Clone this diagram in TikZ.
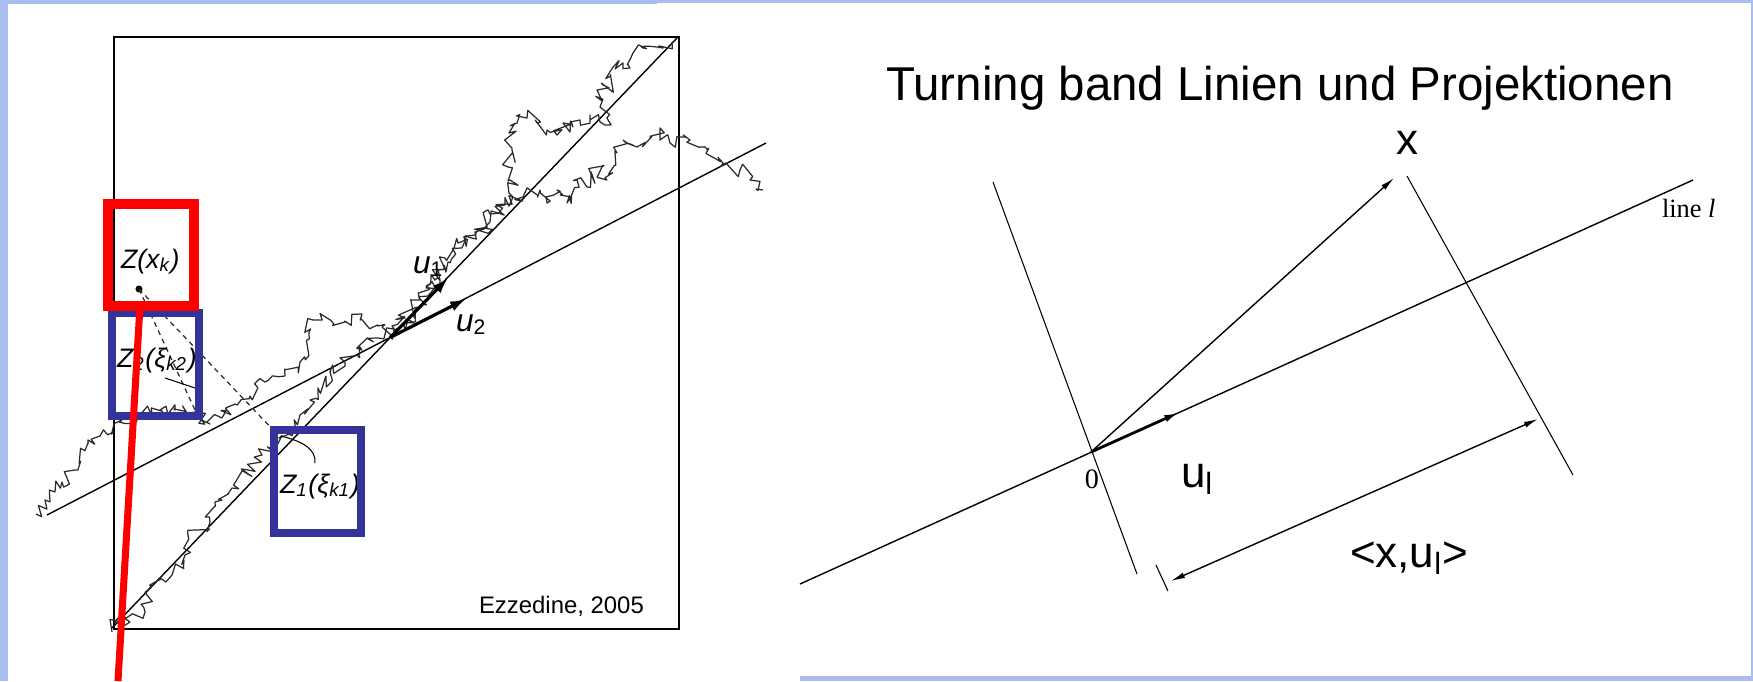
\documentclass[tikz,border=0pt]{standalone}
\usepackage{fontspec}
\setmainfont{Liberation Sans}
\newfontfamily\seriffont{Liberation Serif}
\usepackage{xcolor}
\usepackage{tikz}
\usetikzlibrary{arrows.meta,decorations.pathmorphing,calc}
\definecolor{slideblue}{HTML}{A9BEEE}
\definecolor{markred}{HTML}{FF0000}
\definecolor{markblue}{HTML}{333399}
\definecolor{walkgray}{HTML}{2A2A2A}

\begin{document}
\begin{tikzpicture}[
  x=0.01cm, y=-0.01cm,
  every node/.style={inner sep=0pt, outer sep=0pt},
  frame/.style={draw=black, line width=0.6pt},
  axis/.style={draw=black, line width=0.4pt},
  walk/.style={
    draw=walkgray,
    line width=0.35pt,
    line join=round,
    decorate,
    decoration={random steps, segment length=1.2pt, amplitude=2.1pt}
  },
  dashline/.style={draw=walkgray, line width=0.35pt, dash pattern=on 1.4pt off 1.2pt},
  tip/.style={-{Latex[length=4pt,width=1.7pt]}},
  unitvec/.style={line width=0.9pt, -{Latex[length=4.5pt,width=3pt]}},
  redmark/.style={draw=markred, line width=2.6pt},
  bluemark/.style={draw=markblue, line width=2pt},
  zlabel/.style={anchor=base west, font=\fontsize{7.6}{9}\selectfont\itshape},
  ulabel/.style={anchor=base west, font=\fontsize{9}{10}\selectfont\itshape},
  bigtext/.style={anchor=base west, font=\fontsize{12.5}{14}\selectfont},
  smallserif/.style={anchor=base west, font=\seriffont\fontsize{7.5}{9}\selectfont}
]
\useasboundingbox (0,0) rectangle (1753,681);
\fill[white] (0,0) rectangle (1753,681);

% slide border strips
\fill[slideblue] (0,0) rectangle (8,681);
\fill[slideblue] (0,0) rectangle (657,4);
\fill[slideblue] (657,0) rectangle (1753,3);
\fill[slideblue] (1751,0) rectangle (1753,681);
\fill[slideblue] (800,676) rectangle (1753,681);

%% left panel: two turning band lines with simulated processes
\draw[frame] (114,37) rectangle (679,629);
\coordinate (lineAs) at (112,628);
\coordinate (lineAe) at (677,38);
\coordinate (lineBs) at (47,515);
\coordinate (lineBe) at (766,143);
\coordinate (c) at (intersection of lineAs--lineAe and lineBs--lineBe);
\draw[axis] (lineAs) -- (lineAe);
\draw[axis] (lineBs) -- (lineBe);

\pgfmathsetseed{2005}
\draw[walk] plot coordinates {
  (112,632) (118,618) (130,622) (145,612) (148,590) (160,580) (172,575)
  (185,555) (195,530) (210,522) (222,500) (232,488) (248,470) (262,455)
  (279,438) (292,428) (300,415) (310,400) (318,388) (330,372) (345,362)
  (362,350) (378,338) (392,326) (405,318) (420,300) (435,280) (445,258)
  (458,243) (475,235) (490,222) (505,205) (513,197) (510,180) (508,167)
  (512,150) (509,133) (517,123) (527,118) (537,123) (547,130) (557,135)
  (563,123) (573,127) (580,120) (590,115) (600,122) (605,125) (600,107)
  (597,90) (603,85) (613,90) (613,67) (623,63) (630,68) (633,53)
  (643,48) (657,47) (663,48) (672,42)};
\draw[walk] plot coordinates {
  (36,514) (45,500) (55,492) (62,482) (75,470) (88,440) (100,436)
  (114,432) (122,420) (140,415) (160,410) (175,410) (195,412) (210,424)
  (222,418) (235,404) (250,396) (265,382) (285,376) (300,362) (313,320)
  (327,318) (345,322) (362,314) (378,326) (390,334) (405,330) (415,310)
  (428,296) (440,280) (448,262) (462,248) (475,232) (490,214) (505,204)
  (523,197) (540,190) (547,203) (557,190) (567,203) (577,180) (587,187)
  (597,167) (607,180) (617,153) (623,140) (637,147) (650,137) (660,128)
  (670,143) (690,140) (707,150) (723,163) (740,170) (750,180) (763,190)};

% projection of x_k onto both lines
\coordinate (xk) at (139,289);
\coordinate (xi2) at (195,410);
\coordinate (xi1) at (277,434);
\fill (xk) circle[radius=1pt];
\draw[dashline] (xk) -- (xi2);
\draw[dashline] (xk) -- (xi1);

% unit vectors
\coordinate (u1tip) at (448,278);
\coordinate (u2tip) at (466,299);
\draw[unitvec] (c) -- (u1tip);
\draw[unitvec] (c) -- (u2tip);
\node[ulabel] (u1) at (413,273) {u\textsubscript{\upshape 1}};
\node[ulabel] (u2) at (456,331) {u\textsubscript{\upshape 2}};

% labels with leaders
\node[zlabel] (zxk) at (121,268) {Z(x\textsubscript{k})};
\node[zlabel] (zxi2) at (117,367) {Z\textsubscript{2}(ξ\textsubscript{k2})};
\node[zlabel] (zxi1) at (280,493) {Z\textsubscript{1}(ξ\textsubscript{k1})};
\coordinate (lead2a) at (165,378);
\coordinate (lead2b) at (195,388);
\draw[axis, line width=0.3pt] (lead2a) -- (lead2b);
\coordinate (lead1a) at (281,436);
\coordinate (lead1b) at (315,463);
\draw[axis, line width=0.3pt] (lead1a) .. controls (305,442) and (316,450) .. (lead1b);

\node[anchor=base west, font=\fontsize{6.8}{8}\selectfont] (source) at (479,613) {Ezzedine, 2005};

% highlight boxes
\draw[bluemark] (112,313) rectangle (199,416);
\draw[bluemark] (274,430) rectangle (361,533);
\draw[redmark] (108,204) rectangle (194,306);
\coordinate (redtop) at (140,306);
\coordinate (redend) at (118,681);
\draw[draw=markred, line width=2pt] (redtop) -- (redend);

%% right panel: projection onto line l
\node[anchor=base, font=\fontsize{13.5}{16}\selectfont] (title) at (1280,100)
  {Turning band Linien und Projektionen};

\coordinate (O) at (1091,452);
\coordinate (lstart) at (800,584);
\coordinate (lend) at (1693,180);
\coordinate (perpL1) at (993,182);
\coordinate (perpL2) at (1137,574);
\coordinate (perpR1) at (1407,176);
\coordinate (perpR2) at (1573,475);
\coordinate (xtip) at (1394,178);
\coordinate (ultip) at (1180,412);
\coordinate (dimtop) at (1538,419);
\coordinate (dimbot) at (1171,581);
\coordinate (tick1) at (1156,565);
\coordinate (tick2) at (1168,591);

\draw[axis] (lstart) -- (lend);
\draw[axis, line width=0.3pt] (perpL1) -- (perpL2);
\draw[axis, line width=0.3pt] (perpR1) -- (perpR2);
\draw[axis, tip] (O) -- (xtip);
\draw[line width=0.8pt, -{Latex[length=4.5pt,width=2pt]}] (O) -- (ultip);
\draw[axis, {Latex[length=4pt,width=1.7pt]}-{Latex[length=4pt,width=1.7pt]}] (dimbot) -- (dimtop);
\draw[axis, line width=0.3pt] (tick1) -- (tick2);

\node[anchor=base, font=\fontsize{12.5}{14}\selectfont] (xlabel) at (1407,154) {x};
\node[smallserif] (linel) at (1662,217) {line \textit{l}};
\node[smallserif, anchor=base, font=\seriffont\fontsize{8}{9}\selectfont] (zero) at (1092,488) {0};
\node[bigtext] (ul) at (1181,487) {u\textsubscript{l}};
\node[bigtext] (proj) at (1350,567) {<x,u\textsubscript{l}>};
\end{tikzpicture}
\end{document}
